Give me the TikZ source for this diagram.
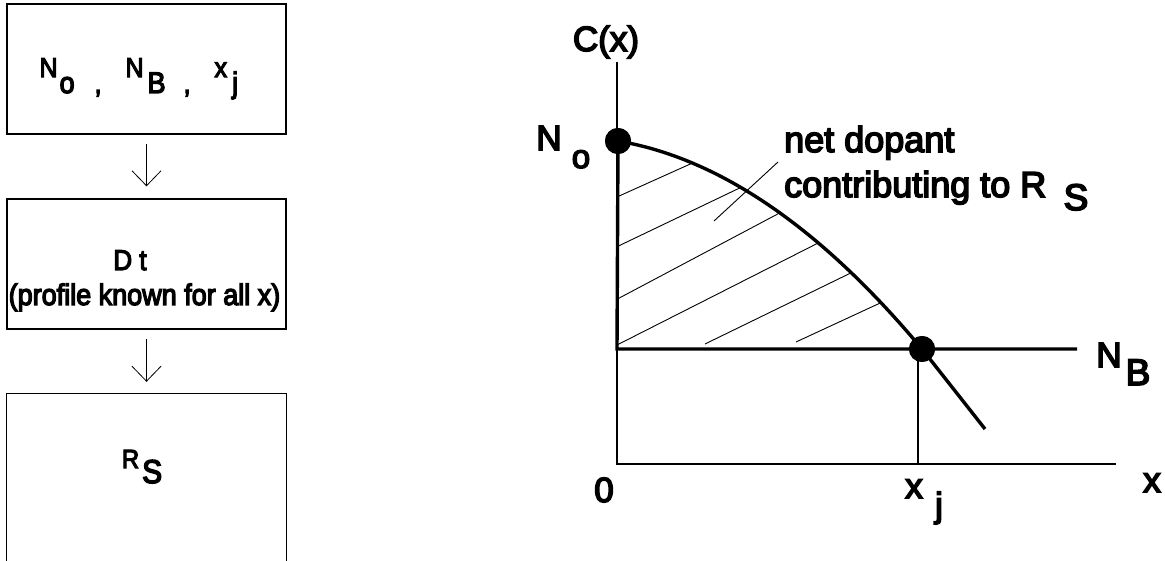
\documentclass[tikz,border=0pt]{standalone}
\usepackage{fontspec}
\setmainfont{Liberation Sans}[FakeBold=4.5]
\usetikzlibrary{arrows.meta}
\newcommand\fsz[1]{\fontsize{#1pt}{#1pt}\selectfont}
\newcommand\tallbox[1]{\scalebox{1}[1.1]{#1}}
\begin{document}
\begin{tikzpicture}[x=1pt,y=-1pt,
  box/.style={draw, line width=1.3pt, minimum width=279pt, minimum height=130pt, inner sep=0pt},
  openbox/.style={inner sep=0pt, minimum width=279pt, minimum height=175pt},
  flow/.style={line width=0.8pt, -{Straight Barb[length=15pt,width=29pt]}, shorten <=9pt, shorten >=12pt},
  axis/.style={line width=1.1pt},
  heavy/.style={line width=3.4pt},
  hatch/.style={line width=0.9pt},
  dot/.style={circle, fill, inner sep=0pt, minimum size=26pt},
  lbl/.style={inner sep=0pt, anchor=base},
  ]
\useasboundingbox (0,0) rectangle (1165,561);
% ---------- left flow ----------
\node[box] (b1) at (146.5,69) {};
\node[box] (b2) at (146.5,264) {};
\node[openbox] (b3) at (146.5,481.5) {};
\draw[line width=1.3pt] (b3.south west) -- (b3.north west) -- (b3.north east) -- (b3.south east);
\draw[flow] (b1.south) -- (b2.north);
\draw[flow] (b2.south) -- (b3.north);
\node[lbl] (t1) at (138.8,93) {\tallbox{\fsz{25}\raisebox{14.5pt}{N}\hspace{2pt}{\fsz{27}o}\hspace{20pt},\hspace{24pt}\raisebox{14.5pt}{N}\hspace{4pt}{\fsz{27}B}\hspace{18pt},\hspace{24pt}\raisebox{14.5pt}{x}\hspace{5pt}{\fsz{27}j}}};
\node[lbl] (t2) at (130,270) {\tallbox{\fsz{26}D t}};
\node[lbl] (t3) at (144.5,305) {\tallbox{\fsz{27}(profile known for all x)}};
\node[lbl] (t4) at (142,483) {\tallbox{\fsz{24}\raisebox{13.5pt}{R}\hspace{3pt}{\fsz{30}S}}};
% ---------- graph ----------
\coordinate (ytop) at (617,62);
\coordinate (org) at (617,464);
\coordinate (xend) at (1116,464);
\coordinate (nbend) at (1077,349);
\coordinate (nbstart) at (617,349);
\coordinate (xjfoot) at (918,464);
\coordinate (xjtop) at (918,349);
\coordinate (tail) at (985,429);
\node[dot] (d0) at (618,141) {};
\node[dot] (dj) at (922,349) {};
\draw[axis] (ytop) -- (org) -- (xend);
\draw[axis] (xjtop) -- (xjfoot);
% hatch, clipped to the region under the profile
\begin{scope}
\clip (d0.center) .. controls (719.4,158.3) and (820.7,227.7) .. (dj.center) -- (nbstart) -- cycle;
\draw[hatch] (608,201) -- (697,161);
\draw[hatch] (608,251) -- (748,184);
\draw[hatch] (608,304) -- (789,208);
\draw[hatch] (617,345) -- (830,237);
\draw[hatch] (705,344) -- (861,268);
\draw[hatch] (796,342) -- (891,298);
\end{scope}
% leader
\coordinate (ld1) at (714,221);
\coordinate (ld2) at (778,162);
\draw[hatch] (ld1) -- (ld2);
% heavy lines
\draw[heavy] (d0.center) -- (nbstart) -- (nbend);
\draw[heavy] (d0.center) .. controls (719.4,158.3) and (820.7,227.7) .. (dj.center) -- (tail);
\node[dot] at (d0) {};
\node[dot] at (dj) {};
% labels
\node[lbl] (cx) at (606,51) {\fsz{35}C(x)};
\node[lbl] (no) at (549,150) {\fsz{35}N};
\node[lbl] (nosub) at (581,168) {\fsz{33}o};
\node[lbl, anchor=base west] (txt1) at (784,152) {\fsz{36}net dopant};
\node[lbl, anchor=base west] (txt2) at (784,197) {\fsz{36}contributing to R};
\node[lbl] (txts) at (1076,210) {\fsz{37}S};
\node[lbl] (nb) at (1109,367) {\fsz{35}N};
\node[lbl] (nbsub) at (1138,385) {\fsz{37}B};
\node[lbl] (zero) at (604,502) {\fsz{35}0};
\node[lbl] (xj) at (914,498) {\fsz{35}x};
\node[lbl] (xjsub) at (939,517) {\fsz{35}j};
\node[lbl] (xl) at (1152,492) {\fsz{35}x};
\end{tikzpicture}
\end{document}
